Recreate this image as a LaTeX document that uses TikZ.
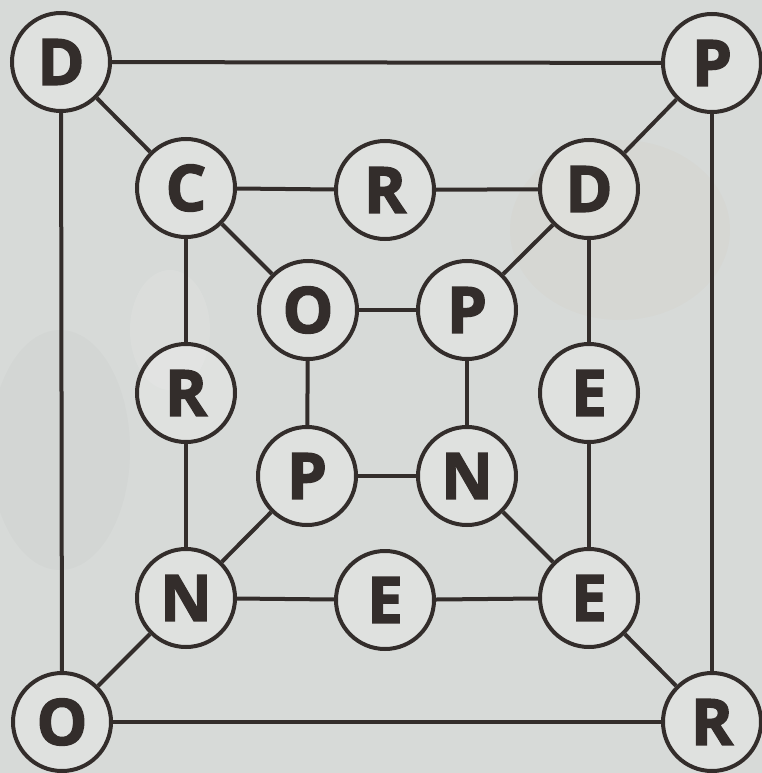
\documentclass[tikz,border=0pt]{standalone}
\usepackage{fontspec}
\setmainfont{Open Sans}[BoldFeatures={FakeBold=2.2}]
\definecolor{bg}{HTML}{D7DAD8}
\definecolor{ink}{HTML}{332D2B}
\tikzset{
  letter/.style={circle, draw=ink, line width=4pt, fill=white, fill opacity=0.2, text opacity=1,
    minimum size=98pt, inner sep=0pt, text=ink, font=\fontsize{64}{64}\selectfont\bfseries},
  link/.style={draw=ink, line width=4pt}
}
\begin{document}
\begin{tikzpicture}[x=1pt,y=-1pt]
\fill[bg] (0,0) rectangle (762,773);
\useasboundingbox (0,0) rectangle (762,773);
% faint background blobs
\fill[white, opacity=0.10] (170,330) ellipse (40 and 60);
\fill[gray, opacity=0.04] (60,450) ellipse (70 and 120);
\fill[brown, opacity=0.03] (620,230) ellipse (110 and 90);
% nodes
\node[letter] (D1) at (61,62) {D};
\node[letter] (P1) at (712,63) {P};
\node[letter] (O1) at (62,722) {O};
\node[letter] (R1) at (712,722) {R};
\node[letter] (C2) at (186,188) {C};
\node[letter] (R2) at (385,190) {R};
\node[letter] (D2) at (589,189) {D};
\node[letter] (R3) at (186,393) {R};
\node[letter] (E3) at (589,393) {E};
\node[letter] (N4) at (186,598) {N};
\node[letter] (E4) at (385,600) {E};
\node[letter] (E5) at (589,598) {E};
\node[letter] (O6) at (308,310) {O};
\node[letter] (P6) at (467,310) {P};
\node[letter] (P7) at (307,476) {P};
\node[letter] (N7) at (467,476) {N};
% outer square
\draw[link] (D1) -- (P1);
\draw[link] (D1) -- (O1);
\draw[link] (P1) -- (R1);
\draw[link] (O1) -- (R1);
% diagonals outer to middle
\draw[link] (D1) -- (C2);
\draw[link] (P1) -- (D2);
\draw[link] (O1) -- (N4);
\draw[link] (R1) -- (E5);
% middle square
\draw[link] (C2) -- (R2);
\draw[link] (R2) -- (D2);
\draw[link] (C2) -- (R3);
\draw[link] (R3) -- (N4);
\draw[link] (N4) -- (E4);
\draw[link] (E4) -- (E5);
\draw[link] (D2) -- (E3);
\draw[link] (E3) -- (E5);
% diagonals middle to inner
\draw[link] (C2) -- (O6);
\draw[link] (D2) -- (P6);
\draw[link] (N4) -- (P7);
\draw[link] (E5) -- (N7);
% inner square
\draw[link] (O6) -- (P6);
\draw[link] (O6) -- (P7);
\draw[link] (P6) -- (N7);
\draw[link] (P7) -- (N7);
\end{tikzpicture}
\end{document}
